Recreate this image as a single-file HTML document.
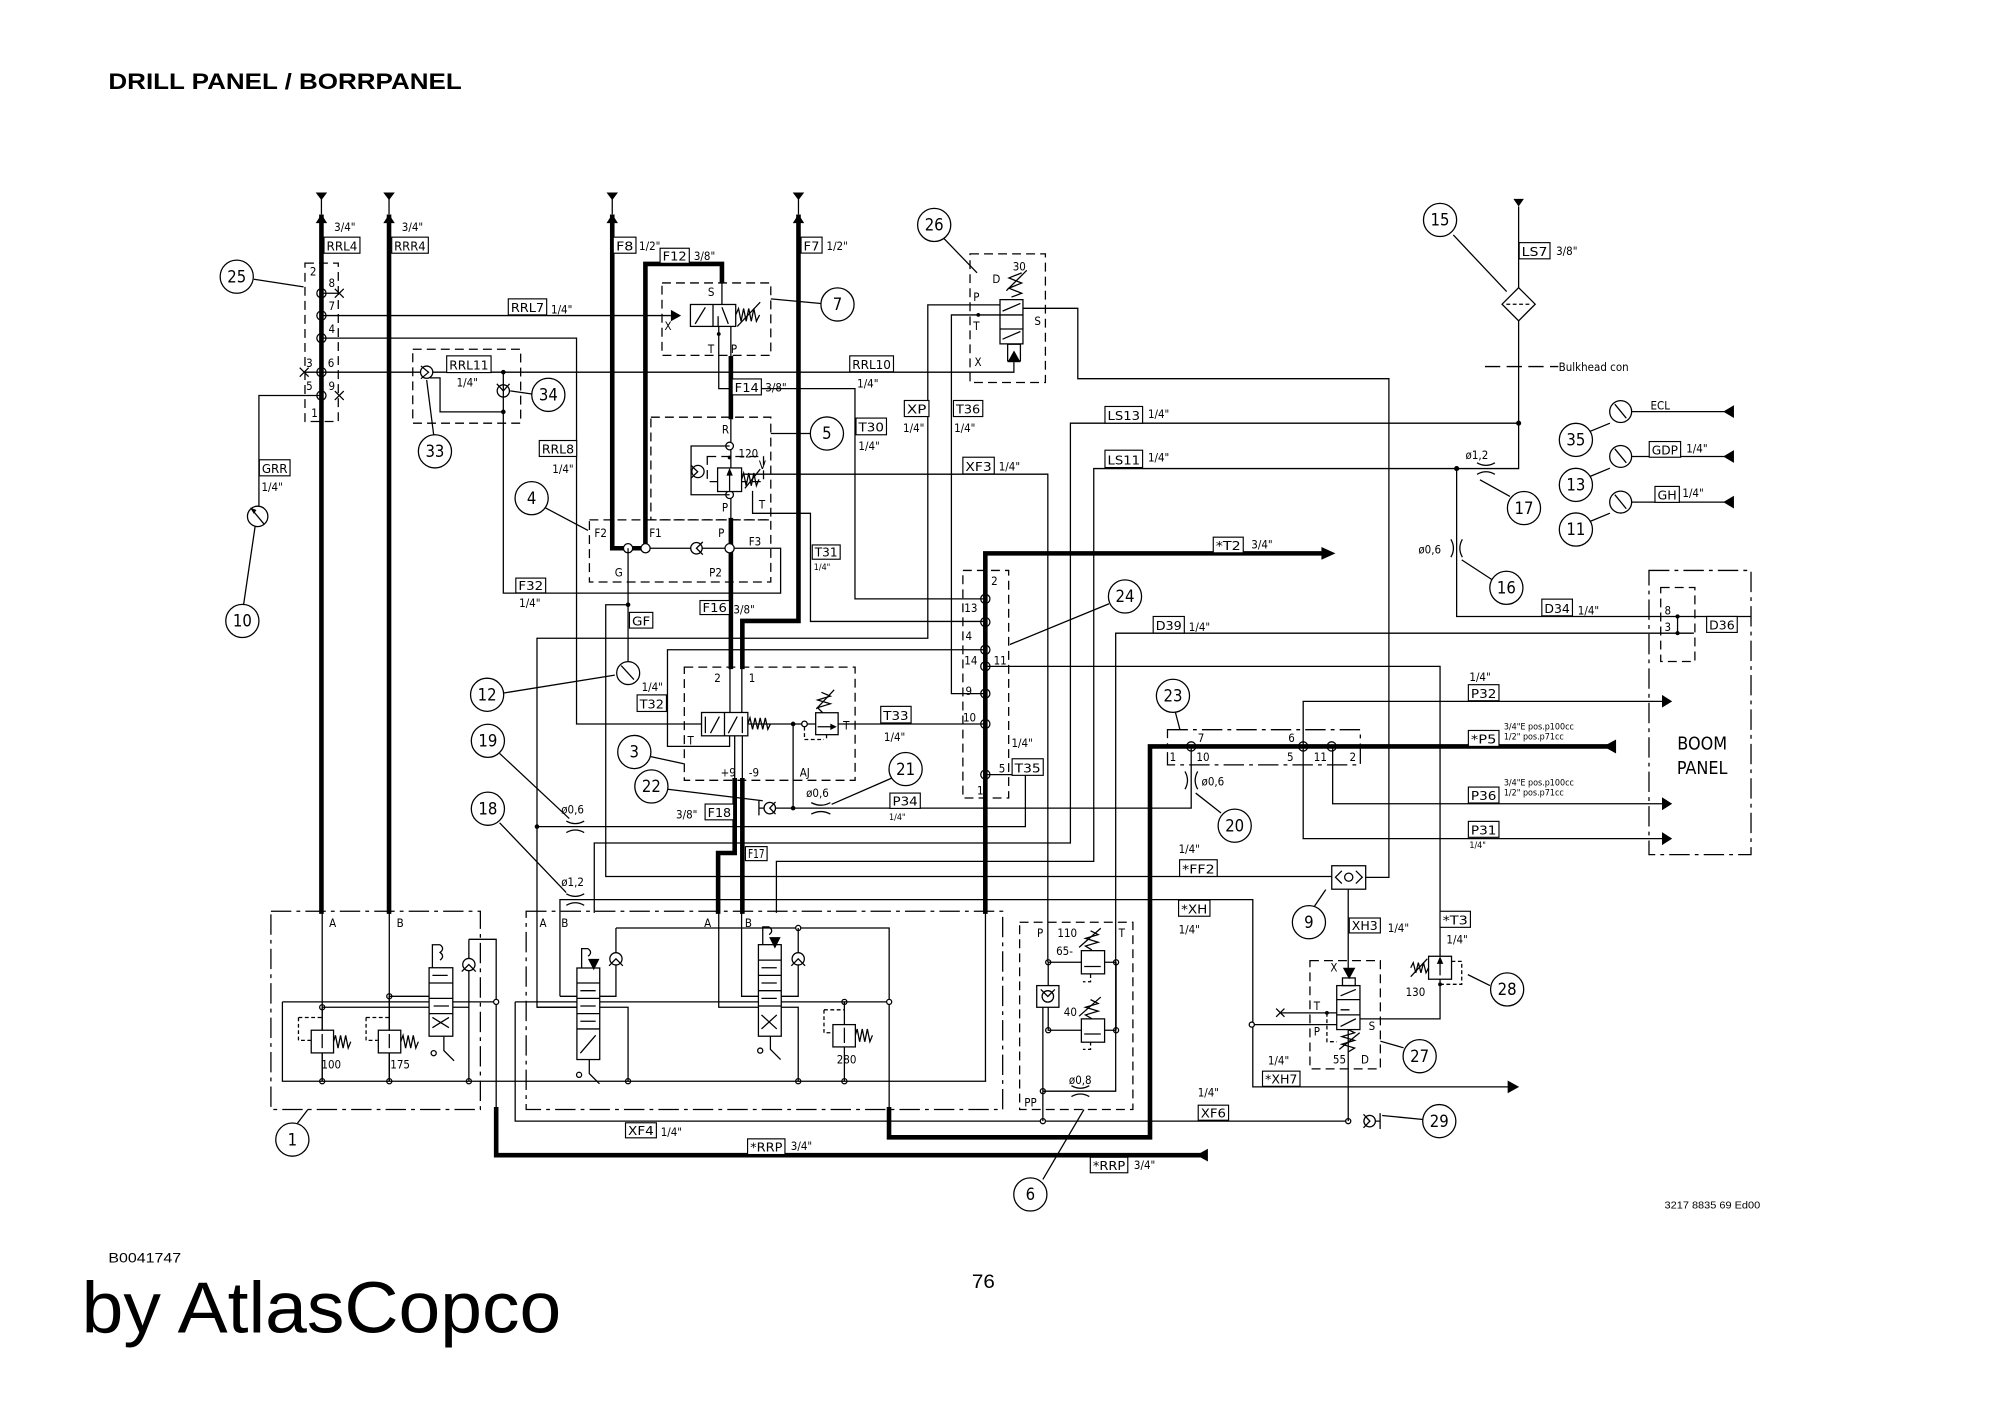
<!DOCTYPE html>
<html><head><meta charset="utf-8">
<style>
html,body{margin:0;padding:0;background:#fff;}
svg{display:block;}
text{font-family:"Liberation Sans Narrow","DejaVu Sans Condensed","Liberation Sans",sans-serif;fill:#000;}
.t{stroke:#000;stroke-width:1;fill:none;}
.k{stroke:#000;stroke-width:3.6;fill:none;stroke-linejoin:miter;stroke-linecap:square;}
.d{stroke:#000;stroke-width:1;fill:none;stroke-dasharray:7 4;}
.dd{stroke:#000;stroke-width:1;fill:none;stroke-dasharray:16 4 3 4;}
.b{fill:#fff;stroke:#000;stroke-width:0.9;}
.c{fill:#fff;stroke:#000;stroke-width:1;}
.w{fill:#fff;stroke:#000;stroke-width:1;}
.l{font-size:10px;}
.n{font-size:13px;text-anchor:middle;}
.s{font-size:9px;}
.xs{font-size:7px;}
.main{font-family:"Liberation Sans",Arial,sans-serif;}
</style></head><body>
<svg width="2000" height="1414" viewBox="0 0 1568 1109" preserveAspectRatio="none" xmlns="http://www.w3.org/2000/svg">
<rect x="0" y="0" width="1568" height="1109" fill="#fff"/>

<!-- Page texts -->
<text class="main" x="85" y="70" font-size="17.5" font-weight="bold" textLength="277" lengthAdjust="spacingAndGlyphs">DRILL PANEL / BORRPANEL</text>
<text class="main" x="85" y="990" font-size="11" textLength="57" lengthAdjust="spacingAndGlyphs">B0041747</text>
<text class="main" x="64" y="1045" font-size="57" textLength="376" lengthAdjust="spacingAndGlyphs">by AtlasCopco</text>
<text class="main" x="762" y="1010" font-size="15" textLength="18" lengthAdjust="spacingAndGlyphs">76</text>
<text class="main" x="1305" y="948" font-size="8" textLength="75" lengthAdjust="spacingAndGlyphs">3217 8835 69 Ed00</text>

<!-- ===== top arrows ===== -->
<g fill="#000">
<polygon points="247.5,151 256.5,151 252,157"/><polygon points="247.5,175 256.5,175 252,168"/>
<polygon points="300.5,151 309.5,151 305,157"/><polygon points="300.5,175 309.5,175 305,168"/>
<polygon points="475.5,151 484.5,151 480,157"/><polygon points="475.5,175 484.5,175 480,168"/>
<polygon points="621.5,151 630.5,151 626,157"/><polygon points="621.5,175 630.5,175 626,168"/>
<polygon points="1186.5,156 1194.7,156 1190.6,162"/>
</g>
<path class="t" d="M252,151 V168 M305,151 V168 M480,151 V168 M626,151 V168"/>

<!-- ===== thick lines ===== -->
<path class="k" d="M252,170 V715"/>
<path class="k" d="M305,170 V715"/>
<path class="k" d="M480,170 V430 H506 V207 H566 V220"/>
<path class="k" d="M573,281 V327"/>
<path class="k" d="M573,408 V523"/>
<path class="k" d="M626,170 V487 H582 V523"/>
<path class="k" d="M576,612 V669 H563 V715"/>
<path class="k" d="M582,612 V715"/>
<path class="k" d="M772.5,715 V434 H1037"/>
<polygon points="1036,429 1047,434 1036,439" fill="#000"/>
<path class="k" d="M389,870 V906 H942"/>
<polygon points="938,906 947,901 947,911" fill="#000"/>
<path class="k" d="M697,870 V892 H901.6 V585.4 H1260"/>
<polygon points="1257,585.4 1267,580 1267,591" fill="#000"/>

<!-- ===== block 25 ===== -->
<rect class="d" x="239.1" y="206.4" width="26.1" height="124.2"/>
<path class="t" d="M252,230 H266"/>
<g class="t">
<circle cx="252" cy="230" r="3.6"/><circle cx="252" cy="247.5" r="3.6"/><circle cx="252" cy="265.2" r="3.6"/><circle cx="252" cy="291.9" r="3.6"/><circle cx="252" cy="310.2" r="3.6"/>
<path d="M262.5,226.5 L269.5,233.5 M269.5,226.5 L262.5,233.5 M235,288.4 L242,295.4 M242,288.4 L235,295.4 M262.5,306.7 L269.5,313.7 M269.5,306.7 L262.5,313.7"/>
</g>
<g class="s">
<text x="243" y="216">2</text><text x="257.5" y="225">8</text><text x="257.5" y="243">7</text><text x="257.5" y="261">4</text>
<text x="240" y="288">3</text><text x="257" y="288">6</text><text x="240" y="306">5</text><text x="257.5" y="306">9</text><text x="244" y="327">1</text>
</g>

<!-- line 7, 4, 6, 5/9 -->
<path class="t" d="M252,247.5 H526"/>
<polygon points="526,243 534,247.5 526,252" fill="#000"/>
<path class="t" d="M252,265.2 H452 V567.8 H550"/>
<path class="t" d="M238.6,291.9 H794.9 V284"/>
<polygon points="790,284 800,284 795,275" fill="#000"/>
<path class="t" d="M252,310.2 H203 V397"/>
<circle class="c" cx="202" cy="405" r="8"/>
<path class="t" d="M197,399 L207,411"/><polygon points="196,398 201,400 199,403" fill="#000"/>

<!-- block 33/34 -->
<rect class="d" x="323.6" y="273.9" width="84.6" height="58"/>
<circle class="c" cx="334.5" cy="291.9" r="4.8"/><path class="t" d="M330,287 L336,292 L330,297"/>
<path class="t" d="M337,296.4 H345 V323 H394.6"/>
<circle class="c" cx="394.6" cy="306.6" r="4.8"/><path class="t" d="M389.5,301 L394.6,306.6 L399.5,301"/>
<path class="t" d="M394.6,291.9 V465.2 H612 V430 H506"/>
<circle cx="394.6" cy="291.9" r="1.8" fill="#000"/><circle cx="394.6" cy="323" r="1.8" fill="#000"/>

<!-- block 4 / 5 -->
<rect class="d" x="462.1" y="407.7" width="142.2" height="48.8"/>
<rect class="d" x="510.3" y="327.2" width="94" height="80.5"/>
<circle class="c" cx="492.4" cy="430" r="3.6"/><circle class="c" cx="506.1" cy="430" r="3.6"/><circle class="c" cx="572" cy="430" r="3.6"/>
<circle class="c" cx="546" cy="430" r="4.5"/><path class="t" d="M551,425 L546,430 L551,435"/>
<path class="t" d="M492.4,430 V474.3 H474.9 V687.4 H1044.1"/>
<circle cx="492.4" cy="474.3" r="1.8" fill="#000"/>
<path class="t" d="M492.4,474.3 V519"/>
<circle class="c" cx="492.5" cy="527.9" r="9"/><path class="t" d="M487,522 L497,533"/>
<path class="t" d="M573,327 V408"/>
<circle class="c" cx="572" cy="349.8" r="3"/><circle cx="572" cy="358.8" r="1.5" fill="#000"/><circle class="c" cx="572" cy="388" r="3"/>
<path class="t" d="M572,349.8 H541.8 V388 H572"/>
<circle class="c" cx="547.2" cy="369.8" r="4.8"/><path class="t" d="M541.8,365 L547,370 L541.8,375"/>
<rect class="d" x="554.5" y="358" width="44.1" height="19.7"/>
<rect class="w" x="562.6" y="367" width="18.8" height="18.5"/>
<path class="t" d="M572,385 V370"/><polygon points="569.5,373 574.5,373 572,367" fill="#000"/>
<polyline class="t" points="581.4,376 583,371 585,381 587,371 589,381 591,371 593,381 595,376"/>
<path class="t" d="M584,383 L596,368"/>
<path class="t" d="M582,371.9 H821.5 V754.7"/>
<path class="t" d="M590,385 V402.6 H635.4 V487.4 H772.5"/>
<g class="s">
<text x="466" y="421">F2</text><text x="509" y="421">F1</text><text x="563" y="421">P</text><text x="587" y="428">F3</text>
<text x="482" y="452">G</text><text x="556" y="452">P2</text>
<text x="566" y="340">R</text><text x="579" y="359">120</text><text x="595" y="368">V</text><text x="595" y="399">T</text><text x="566" y="401">P</text>
</g>

<!-- valve 7 -->
<rect class="d" x="519" y="221.9" width="85.3" height="56.8"/>
<rect class="w" x="541.3" y="238.8" width="35.5" height="17.2"/>
<path class="t" d="M559,238.8 V256 M545,254 L553,241 M563,256 V248 M571,254 L566,241"/>
<polyline class="t" points="576.8,247 579,242 581,252 583,242 585,252 587,242 589,252 591,242 593,252 595.5,247"/>
<path class="t" d="M578,256 L596,237"/>
<path class="t" d="M563.5,256 V304.8 H670.3 V469.7 H772.5"/>
<path class="t" d="M573,256 V281 M566,220 V238.8"/>
<circle cx="563.5" cy="262" r="1.5" fill="#000"/>
<g class="s"><text x="555" y="232">S</text><text x="521" y="259">X</text><text x="555" y="277">T</text><text x="573" y="277">P</text></g>

<!-- valve 26 -->
<rect class="d" x="760.5" y="199.1" width="59.1" height="100.9"/>
<rect class="w" x="784" y="235" width="18" height="34.7"/>
<path class="t" d="M784,247 H802 M784,258 H802 M786,244 L800,238 M786,266 L800,260"/>
<polygon points="790,284 800,284 795,275" fill="#000"/>
<rect class="t" x="790" y="270" width="10" height="13"/>
<polyline class="t" points="793,233 801,230 791,226 801,222 791,218 801,214"/>
<path class="t" d="M789,228 L805,212"/>
<path class="t" d="M784,239.1 H727.4 V500.6 H421 V790 H453.4"/>
<path class="t" d="M784,247 H745.9 V544 H772.5"/>
<path class="t" d="M802,241.8 H845 V297 H1088.9 V688.1 H1070.7"/>
<circle cx="767" cy="247" r="1.5" fill="#000"/>
<g class="s"><text x="794" y="212">30</text><text x="778" y="222">D</text><text x="763" y="236">P</text><text x="763" y="259">T</text><text x="811" y="255">S</text><text x="764" y="287">X</text></g>

<!-- right side long lines -->
<path class="t" d="M1190.6,162 V367.5 H857.5 V675.6 H608.7 V716"/>
<path class="t" d="M1190.6,331.9 H839.2 V661.2 H465.9 V716"/>
<circle cx="1190.6" cy="331.9" r="2" fill="#000"/>
<circle cx="1142" cy="367.5" r="2" fill="#000"/>
<path class="t" d="M1142,367.5 V483.5 H1372.8"/>
<path class="t" d="M1328,496.6 H874.7 V855.8 H817.6"/>
<path class="t" d="M772.5,522.6 H1129 V799.1 H1066"/>
<path class="t" d="M1303,550.1 H1021.7 V657.7 H1303"/>
<path class="t" d="M1044.8,585.4 V630.4 H1303"/>
<g fill="#000">
<polygon points="1303,545 1311,550.1 1303,555"/><polygon points="1303,625.3 1311,630.4 1303,635.5"/><polygon points="1303,652.6 1311,657.7 1303,662.8"/>
</g>
<path class="t" d="M603,633.8 H933.9 V585.4"/>
<path class="t" d="M772.5,607.5 H803.9 V648.3 H421"/>
<path class="t" d="M586.4,567.8 H772.5"/>
<path class="t" d="M772.5,509.6 H523.3 V585.4 H572 V577"/>
<path class="t" d="M621.8,567.8 V633.8"/>
<circle cx="621.8" cy="567.8" r="1.8" fill="#000"/><circle class="c" cx="630.7" cy="567.8" r="2.2"/><circle cx="621.8" cy="633.8" r="1.8" fill="#000"/>
<circle cx="421" cy="648.3" r="1.8" fill="#000"/>
<path class="t" d="M439,781.4 V705.6 H982.2 V852.4 H1183"/>
<polygon points="1182,847.4 1191,852.4 1182,857.4" fill="#000"/>
<path class="t" d="M403.9,785.8 V879.3 H1057"/>
<circle class="c" cx="817.6" cy="879.3" r="2"/><circle class="c" cx="1057" cy="879.3" r="2"/>
<circle class="c" cx="1073.8" cy="879.3" r="4.5"/><path class="t" d="M1069,874 L1074,879.3 L1069,884.5 M1078.3,879.3 H1082 M1082,873 V885.5"/>

<!-- bulkhead / filter 15 -->
<path class="t" d="M1164.2,287.5 H1221.7" stroke-dasharray="12 5"/>
<text class="s" x="1222" y="291">Bulkhead con</text>
<polygon class="w" points="1190.6,225.6 1203.6,238.6 1190.6,251.6 1177.6,238.6"/>
<path class="t" d="M1181,238.6 H1200" stroke-dasharray="3 2"/>

<!-- orifices -->
<g class="t">
<path d="M444,644 Q451,648 458,644 M444,653 Q451,649 458,653"/>
<path d="M444,701 Q451,705 458,701 M444,710 Q451,706 458,710"/>
<path d="M636,629.5 Q643.7,633.5 651,629.5 M636,638.5 Q643.7,634.5 651,638.5"/>
<path d="M929,605 Q933,612 929,619 M939,605 Q935,612 939,619"/>
<path d="M1158,363 Q1165,367 1172,363 M1158,372 Q1165,368 1172,372"/>
<path d="M1137.5,423 Q1141.5,430 1137.5,437 M1146.5,423 Q1142.5,430 1146.5,437"/>
<path d="M840,851.5 Q847,855.5 854,851.5 M840,860 Q847,856 854,860"/>
</g>
<g class="s">
<text x="440" y="638">ø0,6</text><text x="440" y="695">ø1,2</text><text x="632" y="625">ø0,6</text>
<text x="942" y="616">ø0,6</text><text x="1149" y="360">ø1,2</text><text x="1112" y="434">ø0,6</text><text x="838" y="850">ø0,8</text>
</g>

<!-- valve 3 -->
<rect class="d" x="536.5" y="523.2" width="133.9" height="88.8"/>
<path class="t" d="M572.3,523 V558.8 M581.6,523 V558.8 M576,577 V612 M582,577 V612"/>
<rect class="w" x="550" y="558.8" width="36.3" height="18.3"/>
<path class="t" d="M568,558.8 V577.1 M553,575 V562 M557,575 L564,562 M571,575 L578,562 M582,575 V562"/>
<polyline class="t" points="586.3,567.8 588,563 590,572 592,563 594,572 596,563 598,572 600,563 602,572 604,567.8"/>
<rect class="w" x="639.5" y="559" width="17.6" height="17.2"/>
<path class="t" d="M641,570 H654"/><polygon points="651,567.5 656,570 651,572.5" fill="#000"/>
<polyline class="t" points="645,559 641,555 651,552 641,549 651,546 644,543"/>
<path class="t" d="M640,556 L654,541"/>
<path class="t" d="M630.7,570 V580 H646 M648,576 V581" stroke-dasharray="3 2"/>
<g class="s">
<text x="560" y="535">2</text><text x="587" y="535">1</text><text x="565" y="609">+9</text><text x="587" y="609">-9</text><text x="627" y="609">AJ</text>
<text x="539" y="584">T</text><text x="661" y="572">T</text>
</g>
<!-- check valve 22 -->
<circle class="c" cx="603.5" cy="633.8" r="4.5"/><path class="t" d="M608,629 L603.5,633.8 L608,638.5 M599,633.8 H595 M595,628 V639.5"/>

<!-- terminal 24 -->
<rect class="d" x="754.9" y="447.4" width="35.9" height="178.5"/>
<g class="t">
<circle cx="772.5" cy="469.7" r="3.6"/><circle cx="772.5" cy="487.9" r="3.6"/><circle cx="772.5" cy="509.6" r="3.6"/><circle cx="772.5" cy="522.6" r="3.6"/>
<circle cx="772.5" cy="544" r="3.6"/><circle cx="772.5" cy="567.8" r="3.6"/><circle cx="772.5" cy="607.5" r="3.6"/>
</g>
<g class="s">
<text x="777" y="459">2</text><text x="756" y="480">13</text><text x="757" y="502">4</text><text x="756" y="521">14</text><text x="779" y="521">11</text>
<text x="757" y="545">9</text><text x="755" y="566">10</text><text x="783" y="606">5</text><text x="766" y="623">1</text>
</g>

<!-- block 23 -->
<path class="dd" d="M915.3,572.3 H1066.5 V599.9 H915.3 Z"/>
<g class="t"><circle cx="933.9" cy="585.4" r="3.6"/><circle cx="1021.7" cy="585.4" r="3.6"/><circle cx="1044" cy="585.4" r="3.6"/></g>
<g class="s">
<text x="939" y="582">7</text><text x="1010" y="582">6</text><text x="917" y="597">1</text><text x="938" y="597">10</text>
<text x="1009" y="597">5</text><text x="1030" y="597">11</text><text x="1058" y="597">2</text>
</g>

<!-- boom panel -->
<rect class="dd" x="1292.8" y="447.4" width="80" height="222.9"/>
<rect class="d" x="1302" y="460.8" width="26.8" height="58"/>
<path class="t" d="M1315.2,483.5 V496.6"/>
<circle cx="1315.2" cy="483.5" r="1.6" fill="#000"/><circle cx="1315.2" cy="496.6" r="1.6" fill="#000"/>
<text class="s" x="1305" y="482">8</text><text class="s" x="1305" y="495">3</text>
<text x="1334.5" y="588" font-size="14" text-anchor="middle">BOOM</text>
<text x="1334.5" y="607" font-size="14" text-anchor="middle">PANEL</text>

<!-- gauges right -->
<path class="t" d="M1279.2,322.8 H1352 M1279.2,358 H1352 M1279.2,393.8 H1352"/>
<g fill="#000">
<polygon points="1351,322.8 1359.4,317.8 1359.4,327.8"/><polygon points="1351,358 1359.4,353 1359.4,363"/><polygon points="1351,393.8 1359.4,388.8 1359.4,398.8"/>
</g>
<circle class="c" cx="1270.6" cy="322.8" r="8.6"/><circle class="c" cx="1270.6" cy="358" r="8.6"/><circle class="c" cx="1270.6" cy="393.8" r="8.6"/>
<path class="t" d="M1266,317 L1275,328 M1266,352 L1275,363 M1266,388 L1275,399"/>
<text class="s" x="1294" y="321">ECL</text>

<!-- lower block 1 -->
<rect class="dd" x="212.4" y="714.7" width="164.2" height="155.5"/>
<rect class="dd" x="412.5" y="714.7" width="373.6" height="155.5"/>
<path class="t" d="M252.6,715 V848 M305.2,715 V848"/>
<path class="t" d="M221.4,785.8 H389 M221.4,785.8 V848 H773.2"/>
<path class="t" d="M252.6,790 H367.6 M305.2,781.4 H336.4"/>
<path class="t" d="M367.6,736.7 H389 V870.2 M367.6,736.7 V848"/>
<circle class="c" cx="367.6" cy="756.5" r="4.8"/><path class="t" d="M362,762 L367.6,756.5 L373,762"/>
<circle class="c" cx="389" cy="785.8" r="2"/>
<g class="t"><circle cx="252.6" cy="790" r="2"/><circle cx="305.2" cy="781.4" r="2"/><circle cx="252.6" cy="848" r="2"/><circle cx="305.2" cy="848" r="2"/><circle cx="367.6" cy="848" r="2"/></g>
<!-- relief 100 / 175 -->
<rect class="w" x="244" y="808" width="17.5" height="17.8"/>
<rect class="w" x="296.6" y="808" width="17.6" height="17.8"/>
<path class="t" d="M252.6,790 V808 M252.6,825.8 V848 M305.2,781.4 V808 M305.2,825.8 V848"/>
<path class="t" d="M252.6,811 V822 M305.2,811 V822"/>
<polyline class="t" points="261.5,817 263,812 265,822 267,812 269,822 271,812 273,822 275,817"/>
<polyline class="t" points="314.2,817 316,812 318,822 320,812 322,822 324,812 326,822 328,817"/>
<path class="t" d="M234,798 H252 M234,798 V816 H244 M287,798 H305 M287,798 V816 H296" stroke-dasharray="3 2"/>
<text class="s" x="252" y="838">100</text><text class="s" x="306" y="838">175</text>
<!-- directional valve block1 -->
<rect class="w" x="336.4" y="759" width="18.6" height="53.7"/>
<path class="t" d="M336.4,771 H355 M336.4,783 H355 M336.4,795 H355 M339,806 L352,798 M339,798 L352,806 M339,765 H351 M340,789 H352"/>
<path class="t" d="M339,759 V741 H345 M345,741 Q349,744 345,747 Q349,750 345,753"/>
<path class="t" d="M348,813 V824 L356,832"/>
<circle class="t" cx="340" cy="826" r="2"/>
<g class="s"><text x="258" y="727">A</text><text x="311" y="727">B</text><text x="423" y="727">A</text><text x="440" y="727">B</text><text x="552" y="727">A</text><text x="584" y="727">B</text></g>

<!-- lower block 2 -->
<path class="t" d="M403.9,785.8 H697.1"/>
<path class="t" d="M421.1,790 H453.4 M439,781.4 H453.4"/>
<path class="t" d="M563.5,715 V790 H594.6 M581.4,715 V781.4 H594.6"/>
<path class="t" d="M482.9,727.8 H697.1 V870.2"/>
<circle class="c" cx="625.8" cy="727.8" r="2"/><circle class="c" cx="697.1" cy="785.8" r="2"/>
<circle class="c" cx="482.9" cy="752" r="4.8"/><path class="t" d="M477.5,757.5 L482.9,752 L488.3,757.5"/>
<circle class="c" cx="625.8" cy="752" r="4.8"/><path class="t" d="M620.4,757.5 L625.8,752 L631.2,757.5"/>
<path class="t" d="M482.9,727.8 V747 M482.9,757 V781.4 H470.2 M625.8,727.8 V747 M625.8,757 V781.4 H612.5"/>
<path class="t" d="M470.2,790 H492.4 V848 M612.5,790 H625.8 V848"/>
<g class="t"><circle cx="492.4" cy="848" r="2"/><circle cx="625.8" cy="848" r="2"/><circle cx="662" cy="848" r="2"/><circle cx="662" cy="785.8" r="2"/><circle cx="221.4" cy="848" r="0"/></g>
<!-- valve 2a -->
<rect class="w" x="452.3" y="759.2" width="17.9" height="71.8"/>
<path class="t" d="M452.3,771 H470.2 M452.3,783 H470.2 M452.3,795 H470.2 M452.3,807 H470.2 M455,777 H467 M455,789 H467 M455,801 H467 M455,826 L467,812"/>
<polygon points="461,752 470,752 465.5,761" fill="#000"/>
<path class="t" d="M456,759 V744 H461 M461,744 Q465,747 461,750"/>
<path class="t" d="M462,831 V842 L470,850"/><circle class="t" cx="454" cy="843" r="2"/>
<!-- valve 2b -->
<rect class="w" x="594.6" y="740.9" width="17.9" height="71.8"/>
<path class="t" d="M594.6,753 H612.5 M594.6,765 H612.5 M594.6,777 H612.5 M594.6,789 H612.5 M597,759 H609 M597,771 H609 M597,783 H609 M597,807 L609,796 M597,796 L609,807"/>
<polygon points="603,735 612,735 607.5,744" fill="#000"/>
<path class="t" d="M598,741 V727 H603 M603,727 Q607,730 603,733"/>
<path class="t" d="M604,813 V823 L612,831"/><circle class="t" cx="596" cy="824" r="2"/>
<!-- relief 280 -->
<path class="t" d="M662,785.8 V803.6 M662,821.1 V848"/>
<rect class="w" x="653" y="803.6" width="17.6" height="17.5"/>
<path class="t" d="M662,806 V818"/>
<polyline class="t" points="670.6,812 672,807 674,817 676,807 678,817 680,807 682,817 684,812"/>
<path class="t" d="M646,792 H662 M646,792 V810 H653" stroke-dasharray="3 2"/>
<text class="s" x="656" y="834">280</text>
<path class="t" d="M772.6,715 V848"/>

<!-- block 6 -->
<rect class="d" x="799.4" y="723.3" width="88.8" height="146.9"/>
<path class="t" d="M821.8,754.7 H875 M821.8,754.7 V808 H875 M875,754.7 V808"/>
<rect class="w" x="847.8" y="745.6" width="18.2" height="18.2"/>
<rect class="w" x="847.8" y="799.1" width="18.2" height="18.3"/>
<path class="t" d="M850,758 H863 M850,811 H863"/>
<polyline class="t" points="856,745 851,742 861,739 851,736 861,733 855,730"/>
<polyline class="t" points="856,799 851,796 861,793 851,790 861,787 855,784"/>
<path class="t" d="M846,743 L863,728 M846,797 L863,782"/>
<rect class="w" x="812.8" y="773" width="17.4" height="17"/>
<circle class="c" cx="821.5" cy="781.5" r="4.5"/><path class="t" d="M816,776 L821.5,781.5 L827,776"/>
<path class="t" d="M817.6,790 V879.3 M817.6,855.8 H875"/>
<g class="t"><circle cx="821.8" cy="754.7" r="2"/><circle cx="875" cy="754.7" r="2"/><circle cx="821.8" cy="808" r="2"/><circle cx="875" cy="808" r="2"/><circle cx="817.6" cy="855.8" r="2"/></g>
<path class="t" d="M855,764 V770 H849 M855,817 V823 H849" stroke-dasharray="3 2"/>
<g class="s"><text x="813" y="735">P</text><text x="829" y="735">110</text><text x="877" y="735">T</text><text x="828" y="749">65-</text><text x="834" y="797">40</text><text x="803" y="868">PP</text></g>

<!-- shuttle 9 & valve 27 & 28 -->
<rect class="w" x="1044.1" y="679" width="26.6" height="18.4"/>
<path class="t" d="M1052,683 L1047,688 L1052,693 M1063,683 L1068,688 L1063,693"/>
<circle class="t" cx="1057.4" cy="688" r="3.2"/>
<path class="t" d="M1057,697.4 V760 M1057,807.5 V879.3"/>
<rect class="d" x="1027" y="753.4" width="55.2" height="84.9"/>
<rect class="w" x="1048" y="773" width="18.2" height="34.5"/>
<path class="t" d="M1048,784 H1066.2 M1048,796 H1066.2 M1051,781 L1063,776 M1051,792 H1058 M1051,805 L1063,799"/>
<polygon points="1052.8,759 1062.6,759 1057.7,768" fill="#000"/>
<rect class="t" x="1052.5" y="767" width="10" height="6"/>
<polyline class="t" points="1057,807.5 1062,810 1052,813 1062,816 1052,819 1062,822 1057,825"/>
<path class="t" d="M1050,823 L1066,810"/>
<path class="t" d="M981.4,803.6 H1048 M1003.8,794.4 H1048"/>
<circle class="c" cx="981.4" cy="803.6" r="2"/><circle cx="1040.3" cy="794.4" r="1.5" fill="#000"/>
<path class="t" d="M1000.5,791 L1007,797.5 M1007,791 L1000.5,797.5"/>
<path class="t" d="M1040.3,794.4 V817 H1048" stroke-dasharray="3 2"/>
<g class="s"><text x="1043" y="762">X</text><text x="1030" y="792">T</text><text x="1030" y="812">P</text><text x="1073" y="808">S</text><text x="1045" y="834">55</text><text x="1067" y="834">D</text></g>
<rect class="w" x="1120" y="750" width="18" height="18"/>
<path class="t" d="M1129,765 V753"/><polygon points="1126.5,756 1131.5,756 1129,750" fill="#000"/>
<polyline class="t" points="1120,759 1118,763 1116,755 1114,763 1112,755 1110,763 1108,755 1106,759"/>
<path class="t" d="M1106,766 L1119,752"/>
<path class="t" d="M1138,754 H1146 V772 H1129" stroke-dasharray="3 2"/>
<circle cx="1129" cy="772" r="1.5" fill="#000"/>
<text class="s" x="1102" y="781">130</text>

<!-- ===== label boxes ===== -->
<g>
<rect class="b" x="254" y="186" width="28.2" height="12.6"/><text class="l" x="256" y="196.3" textLength="24.2" lengthAdjust="spacingAndGlyphs">RRL4</text>
<rect class="b" x="307.1" y="186" width="28.7" height="12.6"/><text class="l" x="309" y="196.3" textLength="24.7" lengthAdjust="spacingAndGlyphs">RRR4</text>
<rect class="b" x="480.8" y="186" width="17.8" height="12.6"/><text class="l" x="483" y="196.3" textLength="13.6" lengthAdjust="spacingAndGlyphs">F8</text>
<rect class="b" x="517.5" y="194.7" width="22.9" height="11.8"/><text class="l" x="519.5" y="204.3" textLength="18.9" lengthAdjust="spacingAndGlyphs">F12</text>
<rect class="b" x="628" y="186" width="16.5" height="12.5"/><text class="l" x="630" y="196.3" textLength="12.5" lengthAdjust="spacingAndGlyphs">F7</text>
<rect class="b" x="398.5" y="234.4" width="30.1" height="12.6"/><text class="l" x="400.5" y="244.7" textLength="26.1" lengthAdjust="spacingAndGlyphs">RRL7</text>
<rect class="b" x="350.2" y="279.1" width="34.8" height="13.1"/><text class="l" x="352.2" y="289.8" textLength="30.8" lengthAdjust="spacingAndGlyphs">RRL11</text>
<rect class="b" x="666.2" y="279.1" width="34.3" height="12.5"/><text class="l" x="668.2" y="289.4" textLength="30.3" lengthAdjust="spacingAndGlyphs">RRL10</text>
<rect class="b" x="422.8" y="345.5" width="29.3" height="12.5"/><text class="l" x="424.8" y="355.8" textLength="25.3" lengthAdjust="spacingAndGlyphs">RRL8</text>
<rect class="b" x="203.3" y="360.6" width="24.1" height="12.6"/><text class="l" x="205.3" y="370.9" textLength="20.1" lengthAdjust="spacingAndGlyphs">GRR</text>
<rect class="b" x="709" y="314.1" width="19.3" height="12.6"/><text class="l" x="711" y="324.4" textLength="15.3" lengthAdjust="spacingAndGlyphs">XP</text>
<rect class="b" x="747.5" y="314.1" width="23" height="12.6"/><text class="l" x="749.5" y="324.4" textLength="19" lengthAdjust="spacingAndGlyphs">T36</text>
<rect class="b" x="671.1" y="327.9" width="23.9" height="13.1"/><text class="l" x="673.1" y="338.6" textLength="19.9" lengthAdjust="spacingAndGlyphs">T30</text>
<rect class="b" x="574" y="297.2" width="22.9" height="12.5"/><text class="l" x="576" y="307.5" textLength="18.9" lengthAdjust="spacingAndGlyphs">F14</text>
<rect class="b" x="754.9" y="358.6" width="24.6" height="13.1"/><text class="l" x="756.9" y="369.3" textLength="20.6" lengthAdjust="spacingAndGlyphs">XF3</text>
<rect class="b" x="866.3" y="318.8" width="29.5" height="13.1"/><text class="l" x="868.3" y="329.5" textLength="25.5" lengthAdjust="spacingAndGlyphs">LS13</text>
<rect class="b" x="866.3" y="353.1" width="29.5" height="13.6"/><text class="l" x="868.3" y="364.2" textLength="25.5" lengthAdjust="spacingAndGlyphs">LS11</text>
<rect class="b" x="636.8" y="427.4" width="21.9" height="11.2"/><text class="l" x="638.8" y="436.6" textLength="17.9" lengthAdjust="spacingAndGlyphs">T31</text>
<rect class="b" x="404.4" y="453.4" width="23.4" height="11.6"/><text class="l" x="406.4" y="462.8" textLength="19.4" lengthAdjust="spacingAndGlyphs">F32</text>
<rect class="b" x="548.8" y="471" width="23.1" height="11"/><text class="l" x="550.8" y="480" textLength="19.1" lengthAdjust="spacingAndGlyphs">F16</text>
<rect class="b" x="493.5" y="480.3" width="18.3" height="12.3"/><text class="l" x="495.5" y="490.4" textLength="14.3" lengthAdjust="spacingAndGlyphs">GF</text>
<rect class="b" x="499.5" y="545" width="23" height="13"/><text class="l" x="501.5" y="555.6" textLength="19" lengthAdjust="spacingAndGlyphs">T32</text>
<rect class="b" x="690.5" y="554" width="23.8" height="13"/><text class="l" x="692.5" y="564.6" textLength="19.8" lengthAdjust="spacingAndGlyphs">T33</text>
<rect class="b" x="793.5" y="595.1" width="24.4" height="13"/><text class="l" x="795.5" y="605.7" textLength="20.4" lengthAdjust="spacingAndGlyphs">T35</text>
<rect class="b" x="697.7" y="622" width="23.8" height="12"/><text class="l" x="699.7" y="631.6" textLength="19.8" lengthAdjust="spacingAndGlyphs">P34</text>
<rect class="b" x="552.8" y="630.6" width="22.4" height="12.4"/><text class="l" x="554.8" y="640.8" textLength="18.4" lengthAdjust="spacingAndGlyphs">F18</text>
<rect class="b" x="584.4" y="664" width="17" height="11"/><text class="l" x="586.4" y="673" textLength="13" lengthAdjust="spacingAndGlyphs">F17</text>
<rect class="b" x="951.2" y="421.3" width="23.5" height="12.3"/><text class="l" x="953.2" y="431.4" textLength="19.5" lengthAdjust="spacingAndGlyphs">*T2</text>
<rect class="b" x="904.1" y="483.5" width="24.4" height="13"/><text class="l" x="906.1" y="494.1" textLength="20.4" lengthAdjust="spacingAndGlyphs">D39</text>
<rect class="b" x="1208.8" y="469.9" width="24" height="13.1"/><text class="l" x="1210.8" y="480.6" textLength="20" lengthAdjust="spacingAndGlyphs">D34</text>
<rect class="b" x="1338" y="483.5" width="24" height="12.5"/><text class="l" x="1340" y="493.8" textLength="20" lengthAdjust="spacingAndGlyphs">D36</text>
<rect class="b" x="1151.2" y="537" width="24" height="12.6"/><text class="l" x="1153.2" y="547.3" textLength="20" lengthAdjust="spacingAndGlyphs">P32</text>
<rect class="b" x="1151.2" y="572.9" width="24" height="12.5"/><text class="l" x="1153.2" y="583.2" textLength="20" lengthAdjust="spacingAndGlyphs">*P5</text>
<rect class="b" x="1151.2" y="617.3" width="24" height="12.5"/><text class="l" x="1153.2" y="627.6" textLength="20" lengthAdjust="spacingAndGlyphs">P36</text>
<rect class="b" x="1151.2" y="644.2" width="24" height="12.5"/><text class="l" x="1153.2" y="654.5" textLength="20" lengthAdjust="spacingAndGlyphs">P31</text>
<rect class="b" x="924.8" y="674.3" width="29.5" height="13.1"/><text class="l" x="926.8" y="685" textLength="25.5" lengthAdjust="spacingAndGlyphs">*FF2</text>
<rect class="b" x="924" y="706" width="24.6" height="12.6"/><text class="l" x="926" y="716.3" textLength="20.6" lengthAdjust="spacingAndGlyphs">*XH</text>
<rect class="b" x="1057.8" y="720" width="24.4" height="11.7"/><text class="l" x="1059.8" y="729.6" textLength="20.4" lengthAdjust="spacingAndGlyphs">XH3</text>
<rect class="b" x="1129" y="714.7" width="23.8" height="12.6"/><text class="l" x="1131" y="725" textLength="19.8" lengthAdjust="spacingAndGlyphs">*T3</text>
<rect class="b" x="989.8" y="840.1" width="29.4" height="11.9"/><text class="l" x="991.8" y="849.9" textLength="25.4" lengthAdjust="spacingAndGlyphs">*XH7</text>
<rect class="b" x="939.4" y="866.8" width="23.8" height="11.8"/><text class="l" x="941.4" y="876.5" textLength="19.8" lengthAdjust="spacingAndGlyphs">XF6</text>
<rect class="b" x="490.4" y="880.6" width="24.2" height="11.8"/><text class="l" x="492.4" y="890.3" textLength="20.2" lengthAdjust="spacingAndGlyphs">XF4</text>
<rect class="b" x="586.1" y="893.2" width="29.3" height="12.3"/><text class="l" x="588.1" y="903.3" textLength="25.3" lengthAdjust="spacingAndGlyphs">*RRP</text>
<rect class="b" x="854.8" y="907.6" width="29.4" height="12.2"/><text class="l" x="856.8" y="917.6" textLength="25.4" lengthAdjust="spacingAndGlyphs">*RRP</text>
<rect class="b" x="1191" y="190.3" width="24.2" height="12.7"/><text class="l" x="1193" y="200.7" textLength="20.2" lengthAdjust="spacingAndGlyphs">LS7</text>
<rect class="b" x="1293" y="346.3" width="24.6" height="12.3"/><text class="l" x="1295" y="356.4" textLength="20.6" lengthAdjust="spacingAndGlyphs">GDP</text>
<rect class="b" x="1297.5" y="381.5" width="19.1" height="12.5"/><text class="l" x="1299.5" y="391.8" textLength="15.1" lengthAdjust="spacingAndGlyphs">GH</text>
</g>

<!-- size annotations -->
<g class="s">
<text x="262" y="181">3/4"</text><text x="315" y="181">3/4"</text>
<text x="501" y="196">1/2"</text><text x="544" y="204">3/8"</text><text x="648" y="196">1/2"</text>
<text x="432" y="246">1/4"</text><text x="358" y="303">1/4"</text><text x="672" y="304">1/4"</text>
<text x="433" y="371">1/4"</text><text x="205" y="385">1/4"</text>
<text x="708" y="339">1/4"</text><text x="748" y="339">1/4"</text><text x="673" y="353">1/4"</text>
<text x="600" y="307">3/8"</text><text x="783" y="369">1/4"</text><text x="900" y="328">1/4"</text><text x="900" y="362">1/4"</text>
<text x="407" y="476">1/4"</text><text x="575" y="481">3/8"</text><text x="503" y="542">1/4"</text>
<text x="693" y="581">1/4"</text><text x="793" y="586">1/4"</text><text x="530" y="642">3/8"</text>
<text x="981" y="430">3/4"</text><text x="932" y="495">1/4"</text><text x="1237" y="482">1/4"</text>
<text x="1152" y="534">1/4"</text><text x="924" y="669">1/4"</text><text x="924" y="732">1/4"</text><text x="1088" y="731">1/4"</text>
<text x="1134" y="740">1/4"</text><text x="994" y="835">1/4"</text><text x="939" y="860">1/4"</text>
<text x="518" y="891">1/4"</text><text x="620" y="902">3/4"</text><text x="889" y="917">3/4"</text>
<text x="1220" y="200">3/8"</text><text x="1322" y="355">1/4"</text><text x="1319" y="390">1/4"</text>
</g>
<g class="xs">
<text x="638" y="447">1/4"</text><text x="697" y="643">1/4"</text><text x="1152" y="665">1/4"</text>
<text x="1179" y="572">3/4"E pos.p100cc</text><text x="1179" y="580">1/2"   pos.p71cc</text>
<text x="1179" y="616">3/4"E pos.p100cc</text><text x="1179" y="624">1/2"   pos.p71cc</text>
</g>

<!-- ===== leaders ===== -->
<path class="t" d="M199,219 L238,225 M340,341 L334.5,298 M417,309 L400,306.6 M191,474 L200,413 M427,398 L461,416
M643.6,238 L604.3,234.4 M635.3,340 L604.3,340 M740,187 L766,214 M394.5,543.6 L482,529.5
M391.7,590.9 L446.3,642 M391.7,645.3 L443.9,700 M510.2,593.4 L536,599 M523.5,619 L598,628
M700,609.9 L652,630.8 M869.5,473.5 L791.8,505.5 M921.5,558.6 L925,572 M957.3,637.6 L937.4,622
M233.2,881 L241.4,870.2 M817.6,925 L849.8,870.2 M1039.4,697.7 L1030.4,711 M1082.2,816.6 L1100.4,821.8
M1150.8,764.4 L1168.1,773 M1083.6,874.9 L1115.8,878 M1139.4,184.3 L1181.2,228.7 M1160.3,376.3 L1183.8,389.4
M1146,439.1 L1170,454.8 M1246.5,338.4 L1262.2,331.9 M1246.5,373.7 L1262.2,367.2 M1246.5,409 L1262.2,402.5"/>

<!-- ===== numbered circles ===== -->
<g>
<circle class="c" cx="185.6" cy="217" r="13"/><text class="n" x="185.6" y="221.5">25</text>
<circle class="c" cx="341" cy="354" r="13"/><text class="n" x="341" y="358.5">33</text>
<circle class="c" cx="429.9" cy="309.7" r="13"/><text class="n" x="429.9" y="314.2">34</text>
<circle class="c" cx="190" cy="487" r="13"/><text class="n" x="190" y="491.5">10</text>
<circle class="c" cx="416.8" cy="390.7" r="13"/><text class="n" x="416.8" y="395.2">4</text>
<circle class="c" cx="656.6" cy="238.8" r="13"/><text class="n" x="656.6" y="243.3">7</text>
<circle class="c" cx="648.3" cy="340" r="13"/><text class="n" x="648.3" y="344.5">5</text>
<circle class="c" cx="732.4" cy="176.4" r="13"/><text class="n" x="732.4" y="180.9">26</text>
<circle class="c" cx="381.9" cy="544.9" r="13"/><text class="n" x="381.9" y="549.4">12</text>
<circle class="c" cx="382.5" cy="581" r="13"/><text class="n" x="382.5" y="585.5">19</text>
<circle class="c" cx="382.5" cy="634.3" r="13"/><text class="n" x="382.5" y="638.8">18</text>
<circle class="c" cx="497.3" cy="589.8" r="13"/><text class="n" x="497.3" y="594.3">3</text>
<circle class="c" cx="510.7" cy="616.8" r="13"/><text class="n" x="510.7" y="621.3">22</text>
<circle class="c" cx="710" cy="603.2" r="13"/><text class="n" x="710" y="607.7">21</text>
<circle class="c" cx="882" cy="467.8" r="13"/><text class="n" x="882" y="472.3">24</text>
<circle class="c" cx="919.6" cy="545.7" r="13"/><text class="n" x="919.6" y="550.2">23</text>
<circle class="c" cx="968" cy="647.6" r="13"/><text class="n" x="968" y="652.1">20</text>
<circle class="c" cx="229.2" cy="893.8" r="13"/><text class="n" x="229.2" y="898.3">1</text>
<circle class="c" cx="807.8" cy="936.8" r="13"/><text class="n" x="807.8" y="941.3">6</text>
<circle class="c" cx="1026.2" cy="723.3" r="13"/><text class="n" x="1026.2" y="727.8">9</text>
<circle class="c" cx="1113" cy="828.4" r="13"/><text class="n" x="1113" y="832.9">27</text>
<circle class="c" cx="1181.6" cy="776" r="13"/><text class="n" x="1181.6" y="780.5">28</text>
<circle class="c" cx="1128.4" cy="879.3" r="13"/><text class="n" x="1128.4" y="883.8">29</text>
<circle class="c" cx="1129" cy="172.5" r="13"/><text class="n" x="1129" y="177">15</text>
<circle class="c" cx="1194.8" cy="398.5" r="13"/><text class="n" x="1194.8" y="403">17</text>
<circle class="c" cx="1181" cy="461" r="13"/><text class="n" x="1181" y="465.5">16</text>
<circle class="c" cx="1235.5" cy="345" r="13"/><text class="n" x="1235.5" y="349.5">35</text>
<circle class="c" cx="1235.5" cy="380.3" r="13"/><text class="n" x="1235.5" y="384.8">13</text>
<circle class="c" cx="1235.5" cy="415.3" r="13"/><text class="n" x="1235.5" y="419.8">11</text>
</g>
</svg>
</body></html>
